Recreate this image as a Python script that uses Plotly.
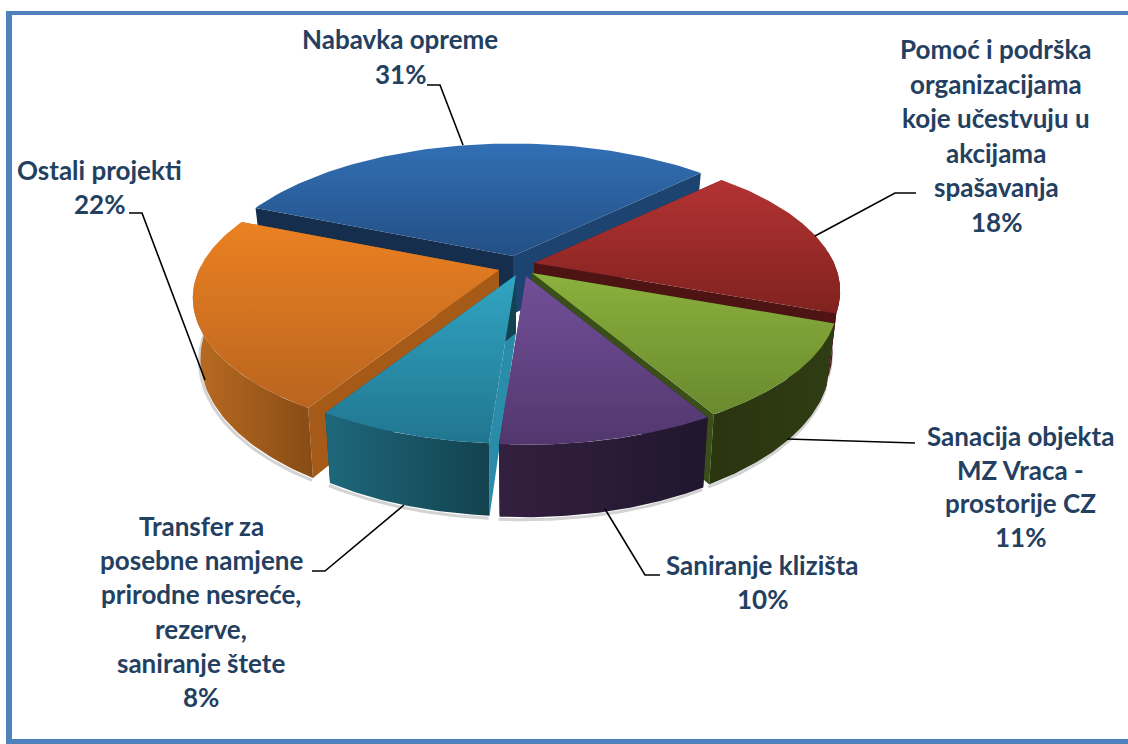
import numpy as np
import plotly.graph_objects as go

# ---- data -------------------------------------------------------------
categories = ["Nabavka opreme",
              "Pomoć i podrška\norganizacijama\nkoje učestvuju u\nakcijama\nspašavanja",
              "Sanacija objekta\nMZ Vraca -\nprostorije CZ",
              "Saniranje klizišta",
              "Transfer za\nposebne namjene\nprirodne nesreće,\nrezerve,\nsaniranje štete",
              "Ostali projekti"]
shares = [31.4, 18.0, 11.0, 9.5, 7.7, 22.4]

# ---- style / layout ---------------------------------------------------
W, H = 1128, 744
START = -67.5
RX, RY, K, DEPTH, LOWER = 300.0, 135.0, 0.2, 58.0, 0.975
CENTERS = [(513, 256), (534, 263), (532, 273), (526, 276), (516, 275), (499, 270)]
TOP = [("#326FB5", "#234F84"), ("#B33333", "#80221F"), ("#8BB13D", "#69892E"),
       ("#724F99", "#52376E"), ("#31A5C2", "#217690"), ("#EB8122", "#B9641F")]
WALL = [("#17355A", "#17355A"), ("#5A1515", "#4A1010"), ("#2A3510", "#303C13"),
        ("#33203F", "#21162E"), ("#1E687C", "#13424F"), ("#BA6B21", "#874C15")]
FACE_START = ["#152E4E", "#4E1313", "#3A4E18", "#2A1C38", "#2B8CA9", "#A65A17"]
FACE_END = ["#1D4470", "#4E1313", "#3A4E18", "#2A1C38", "#134350", "#A65A17"]
ORDER = [0, 1, 5, 2, 4, 3]
TEXT = "#244061"
BORDER = "#4F81BD"
FONT = "Lato"
FONT_SIZE = 26

LABEL_POS = [(400, 39, 34.5), (996, 49, 34.5), (1020, 436, 33.7), (762, 565, 34), (201, 526, 34.2), (99, 170, 34)]
LEADERS = [[(427, 85), (440, 85), (463, 145)],
           [(916, 193), (895, 193), (815, 236)],
           [(915, 443), (787, 439)],
           [(660, 575), (645, 575), (605, 509)],
           [(312, 571), (325, 571), (404, 505)],
           [(129, 213), (142, 213), (205, 380)]]


def project(c, theta, radius=1.0, lower=False):
    t = np.radians(theta)
    X, Y = radius * np.sin(t), -radius * np.cos(t)
    s = 1.0 / (1.0 - K * Y)
    x = c[0] + RX * X * s * (LOWER if lower else 1.0)
    y = c[1] + RY * Y * s + (DEPTH * s if lower else 0.0)
    return x, y


def poly(xs, ys, **kw):
    return go.Scatter(x=list(xs), y=list(ys), mode="lines", fill="toself",
                      line=dict(width=0), hoverinfo="skip", showlegend=False, **kw)


fig = go.Figure()
bounds = START + np.concatenate([[0], np.cumsum(shares)]) * 360.0 / sum(shares)

for i in ORDER:
    c = CENTERS[i]
    a, b = bounds[i], bounds[i + 1]
    arc = np.linspace(a, b, 80)

    # soft shadow under the outer wall
    lo, hi = max(a, 85), min(b, 272)
    if hi > lo:
        w = np.linspace(lo, hi, 60)
        sx, sy = project(c, w, lower=True)
        fig.add_trace(go.Scatter(x=sx - 1, y=sy + 2.5, mode="lines", hoverinfo="skip", showlegend=False,
                                 line=dict(color="rgba(110,110,110,0.3)", width=3)))

    # cut faces
    for th, col in ((a, FACE_START[i]), (b, FACE_END[i])):
        p0 = project(c, th, 0.0)
        p1 = project(c, th)
        p2 = project(c, th, lower=True)
        p3 = project(c, th, 0.0, lower=True)
        fig.add_trace(poly([p0[0], p1[0], p2[0], p3[0], p0[0]],
                           [p0[1], p1[1], p2[1], p3[1], p0[1]], fillcolor=col))

    # outer wall
    if hi > lo:
        ux, uy = project(c, w)
        vx, vy = project(c, w[::-1], lower=True)
        fig.add_trace(poly(np.r_[ux, vx, ux[0]], np.r_[uy, vy, uy[0]],
                           fillgradient=dict(type="horizontal",
                                             colorscale=[[0, WALL[i][0]], [1, WALL[i][1]]])))

    # top surface (the gradient runs along the numeric axis, which is reversed here)
    x, y = project(c, arc)
    fig.add_trace(poly(np.r_[c[0], x, c[0]], np.r_[c[1], y, c[1]],
                       fillgradient=dict(type="vertical",
                                         colorscale=[[0, TOP[i][1]], [1, TOP[i][0]]])))

# leader lines
for pts in LEADERS:
    fig.add_trace(go.Scatter(x=[p[0] for p in pts], y=[p[1] for p in pts], mode="lines",
                             line=dict(color="#000000", width=1.6), hoverinfo="skip", showlegend=False))

# labels, one annotation per text line so the line pitch matches
for name, share, (lx, ly, pitch) in zip(categories, shares, LABEL_POS):
    for n, line in enumerate(name.split("\n") + [f"{round(share)}%"]):
        fig.add_annotation(x=lx, y=ly + n * pitch, text=f"<b>{line}</b>", showarrow=False,
                           xanchor="center", yanchor="middle",
                           font=dict(family=FONT, size=FONT_SIZE, color=TEXT))

# frame
shapes = [dict(type="rect", xref="x", yref="y", x0=x0, x1=x1, y0=y0, y1=y1,
               fillcolor=BORDER, line=dict(width=0), layer="above")
          for x0, x1, y0, y1 in [(6, 12, 11, 744), (6, 1128, 11, 15), (6, 1128, 739, 744)]]

fig.update_layout(width=W, height=H, margin=dict(l=0, r=0, t=0, b=0),
                  paper_bgcolor="white", plot_bgcolor="white", shapes=shapes,
                  xaxis=dict(range=[0, W], visible=False, fixedrange=True),
                  yaxis=dict(range=[H, 0], visible=False, fixedrange=True))

fig.write_html("out.html", config=dict(displayModeBar=False),
               post_script="document.body.style.margin='0';")
